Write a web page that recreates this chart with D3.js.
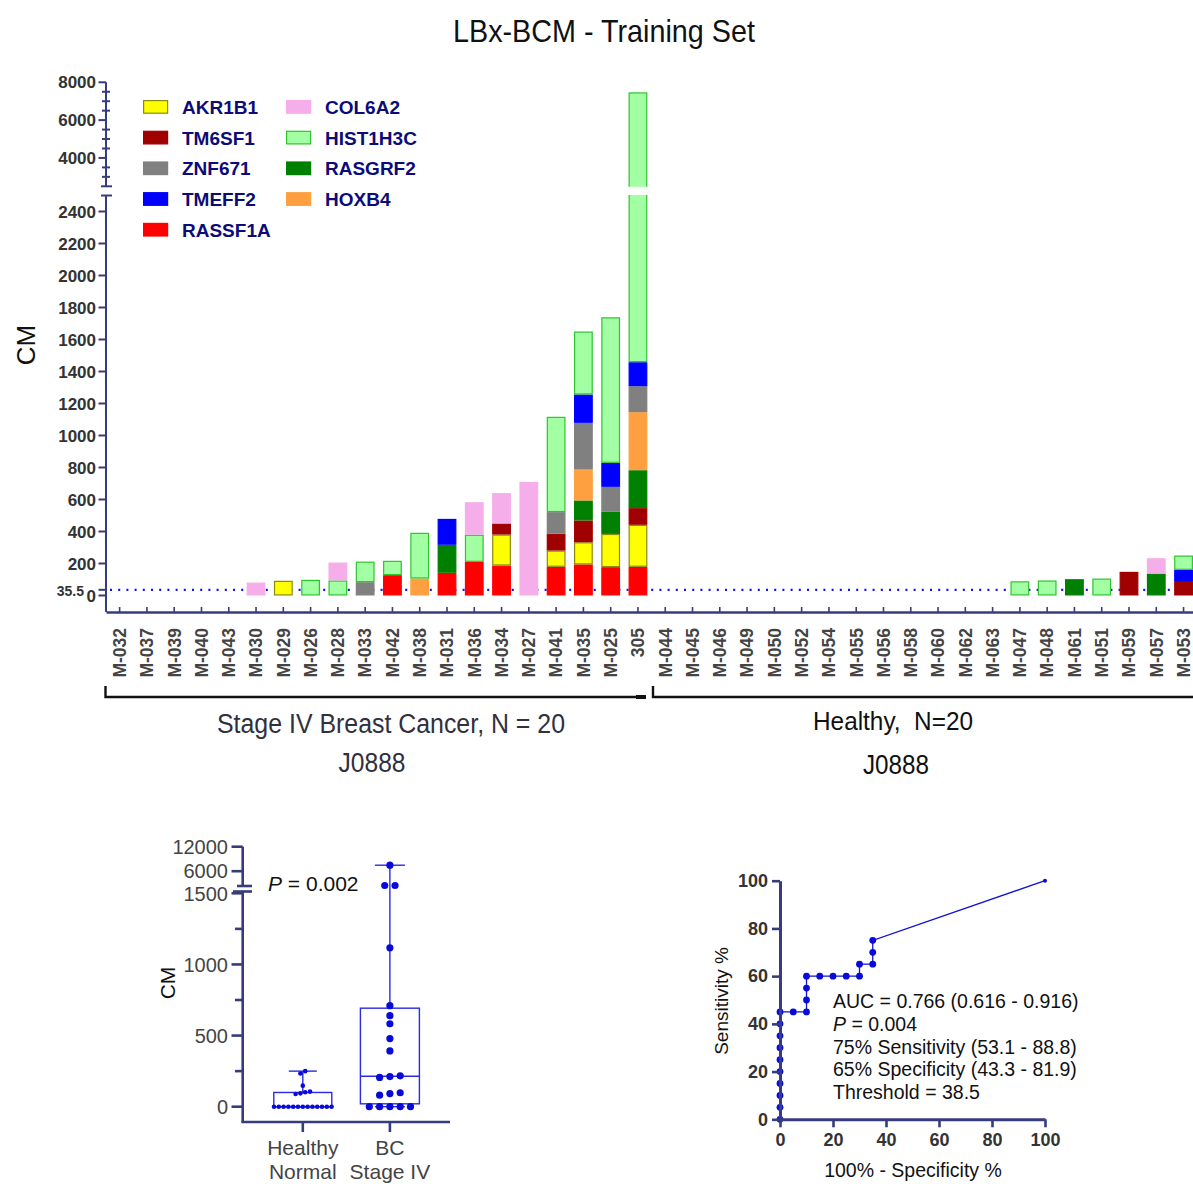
<!DOCTYPE html>
<html>
<head>
<meta charset="utf-8">
<script src="https://cdn.jsdelivr.net/npm/d3@7"></script>
<style>
  body { margin: 0; background: #fff; }
  text { font-family: "Liberation Sans", Arial, sans-serif; }
</style>
</head>
<body>
<svg id="chart" width="1193" height="1184"></svg>
<script>
// ---- data ----
const samples = ["M-032","M-037","M-039","M-040","M-043","M-030","M-029","M-026","M-028","M-033",
  "M-042","M-038","M-031","M-036","M-034","M-027","M-041","M-035","M-025","305",
  "M-044","M-045","M-046","M-049","M-050","M-052","M-054","M-055","M-056","M-058",
  "M-060","M-062","M-063","M-047","M-048","M-061","M-051","M-059","M-057","M-053"];
const nCancer = 20;

// stacking order, bottom to top
const genes = ["RASSF1A","AKR1B1","TM6SF1","RASGRF2","HOXB4","ZNF671","TMEFF2","HIST1H3C","COL6A2"];

const RASSF1A  = [0,0,0,0,0,0,0,0,0,0,  127,0,142,210,187,0,179,194,177,179,  0,0,0,0,0,0,0,0,0,0,  0,0,0,0,0,0,0,0,0,0];
const AKR1B1   = [0,0,0,0,0,0,92,0,0,0,  0,0,0,0,194,0,102,139,208,263,  0,0,0,0,0,0,0,0,0,0,  0,0,0,0,0,0,0,0,0,0];
const TM6SF1   = [0,0,0,0,0,0,0,0,0,0,  0,0,0,0,69,0,106,136,0,104,  0,0,0,0,0,0,0,0,0,0,  0,0,0,0,0,0,0,148,0,85];
const RASGRF2  = [0,0,0,0,0,0,0,0,0,0,  0,0,175,0,0,0,0,125,138,237,  0,0,0,0,0,0,0,0,0,0,  0,0,0,0,0,102,0,0,137,0];
const HOXB4    = [0,0,0,0,0,0,0,0,0,0,  0,106,0,0,0,0,0,193,0,363,  0,0,0,0,0,0,0,0,0,0,  0,0,0,0,0,0,0,0,0,0];
const ZNF671   = [0,0,0,0,0,0,0,0,0,83,  0,0,0,0,0,0,134,292,156,162,  0,0,0,0,0,0,0,0,0,0,  0,0,0,0,0,0,0,0,0,0];
const TMEFF2   = [0,0,0,0,0,0,0,0,0,0,  0,0,162,0,0,0,0,177,150,150,  0,0,0,0,0,0,0,0,0,0,  0,0,0,0,0,0,0,0,0,75];
const HIST1H3C = [0,0,0,0,0,0,0,98,94,129,  90,286,0,170,0,0,596,394,910,6012,  0,0,0,0,0,0,0,0,0,0,  0,0,0,89,94,0,106,0,0,90];
const COL6A2   = [0,0,0,0,0,81,0,0,112,0,  0,0,0,203,190,710,0,0,0,0,  0,0,0,0,0,0,0,0,0,0,  0,0,0,0,0,0,0,0,96,0];

const geneValues = {RASSF1A, AKR1B1, TM6SF1, RASGRF2, HOXB4, ZNF671, TMEFF2, HIST1H3C, COL6A2};

const legendCol1 = ["AKR1B1","TM6SF1","ZNF671","TMEFF2","RASSF1A"];
const legendCol2 = ["COL6A2","HIST1H3C","RASGRF2","HOXB4"];

const lowTicks = [0,200,400,600,800,1000,1200,1400,1600,1800,2000,2200,2400];
const highTicks = [4000,6000,8000];
const highMinor = [3000,3500,4500,5000,5500,6500,7000,7500];
const cutoff = 35.5;

const boxGroups = ["Healthy","BC"];
const boxLabels = [["Healthy","Normal"],["BC","Stage IV"]];
const boxLowTicks = [0,500,1000,1500];
const boxLowMinor = [250,750,1250];
const boxHighTicks = [6000,12000];

const rocX = [0,0,0,0,0,0,0,0,0,0,5,10,10,10,10,15,20,25,30,30,35,35,35,100];
const rocY = [0,5,10,15,20,25,30,35,40,45,45,45,50,55,60,60,60,60,60,65,65,70,75,100];
const rocTicks = [0,20,40,60,80,100];
const rocNotes = ["AUC = 0.766 (0.616 - 0.916)","P = 0.004","75% Sensitivity (53.1 - 88.8)","65% Specificity (43.3 - 81.9)","Threshold = 38.5"];

// ---- styles ----
const fills = {AKR1B1:"#ffff00", TM6SF1:"#a00000", ZNF671:"#808080", TMEFF2:"#0000ff", RASSF1A:"#ff0000",
  COL6A2:"#f5aee9", HIST1H3C:"#a3ffa3", RASGRF2:"#008000", HOXB4:"#ffa040"};
const strokes = {AKR1B1:"#8a8a10", HIST1H3C:"#2ec42e"};
const navy = "#363c7c";
const dotBlue = "#0a0ad8";

const svg = d3.select("#chart");

function fit(sel, w) { return sel.attr("textLength", w).attr("lengthAdjust", "spacingAndGlyphs"); }

// title
fit(svg.append("text").attr("x", 604).attr("y", 42).attr("text-anchor", "middle")
  .style("font-size", "32px").attr("fill", "#111").text("LBx-BCM - Training Set"), 302);

// ================= stacked bar chart =================
const x = d3.scaleBand().domain(samples).range([106, 1197.2]).paddingInner(0.31).paddingOuter(0.155);
const yLow = d3.scaleLinear().domain([0, 2500]).range([595.5, 195.5]);
const yHigh = d3.scaleLinear().domain([2500, 8000]).range([186.3, 82.3]);
const y = v => v <= 2500 ? yLow(v) : yHigh(v);

const rows = samples.map((s, i) => {
  const r = {sample: s};
  genes.forEach(g => r[g] = geneValues[g][i]);
  return r;
});
const stacked = d3.stack().keys(genes)(rows);

// cutoff dotted line (behind bars)
svg.append("line")
  .attr("x1", 110).attr("x2", 1193).attr("y1", y(cutoff)).attr("y2", y(cutoff))
  .attr("stroke", "#1010ff").attr("stroke-width", 2.2).attr("stroke-dasharray", "2 6.2");

const barG = svg.append("g");
stacked.forEach(series => {
  const g = series.key;
  barG.selectAll(null)
    .data(series.filter(d => d[1] > d[0]))
    .enter().append("rect")
    .attr("x", d => x(d.data.sample) + 0.6)
    .attr("width", x.bandwidth() - 1.2)
    .attr("y", d => y(d[1]) + 0.6)
    .attr("height", d => y(d[0]) - y(d[1]) - 1.2)
    .attr("fill", fills[g])
    .attr("stroke", strokes[g] || fills[g])
    .attr("stroke-width", 1.2);
});
// gap through bars that cross the axis break
rows.forEach(r => {
  const tot = d3.sum(genes, g => r[g]);
  if (tot > 2500) {
    svg.append("rect").attr("x", x(r.sample) - 2).attr("width", x.bandwidth() + 4)
      .attr("y", yHigh(2500) + 0.5).attr("height", yLow(2500) - yHigh(2500) - 1).attr("fill", "#fff");
  }
});

// y axis (broken)
const yAxisG = svg.append("g").attr("stroke", navy).attr("stroke-width", 2);
yAxisG.append("line").attr("x1", 106).attr("x2", 106).attr("y1", yHigh(8000)).attr("y2", yHigh(2500));
yAxisG.append("line").attr("x1", 106).attr("x2", 106).attr("y1", yLow(2500)).attr("y2", 612);
[yHigh(2500), yLow(2500)].forEach(v => yAxisG.append("line").attr("x1", 101).attr("x2", 112).attr("y1", v).attr("y2", v));
yAxisG.selectAll(null).data(lowTicks.concat([cutoff])).enter().append("line")
  .attr("x1", 98.5).attr("x2", 106).attr("y1", d => yLow(d)).attr("y2", d => yLow(d));
yAxisG.selectAll(null).data(highTicks).enter().append("line")
  .attr("x1", 98.5).attr("x2", 106).attr("y1", d => yHigh(d)).attr("y2", d => yHigh(d));
yAxisG.selectAll(null).data(highMinor).enter().append("line")
  .attr("x1", 102).attr("x2", 110).attr("y1", d => yHigh(d)).attr("y2", d => yHigh(d));

const yLab = svg.append("g").attr("fill", "#333").style("font-size", "17px").style("font-weight", "bold")
  .attr("text-anchor", "end");
yLab.selectAll(null).data(lowTicks).enter().append("text")
  .attr("x", 96).attr("y", d => yLow(d)).attr("dy", "0.36em").text(d => d);
yLab.selectAll(null).data(highTicks).enter().append("text")
  .attr("x", 96).attr("y", d => yHigh(d)).attr("dy", "0.36em").text(d => d);
yLab.append("text").attr("x", 84).attr("y", yLow(cutoff) + 1).attr("dy", "0.36em")
  .style("font-size", "14px").text(cutoff);

svg.append("text").attr("transform", "translate(35,345) rotate(-90)").attr("text-anchor", "middle")
  .style("font-size", "26px").attr("fill", "#111").text("CM");

// x axis
const xAxis = d3.axisBottom(x).tickSizeInner(-5).tickSizeOuter(0);
const xAxisG = svg.append("g").attr("transform", "translate(0,612)").call(xAxis);
xAxisG.select(".domain").attr("stroke", navy).attr("stroke-width", 2.5);
xAxisG.selectAll(".tick line").attr("stroke", navy).attr("stroke-width", 1.6);
xAxisG.selectAll(".tick text")
  .attr("transform", "rotate(-90)").attr("x", -16).attr("y", 0).attr("dy", "0.36em")
  .attr("text-anchor", "end").attr("fill", "#444")
  .style("font-size", "17.5px").style("font-weight", "bold").style("font-family", "Liberation Sans, Arial, sans-serif");

// group brackets
const br = svg.append("g").attr("fill", "none").attr("stroke", "#111").attr("stroke-width", 2.4);
br.append("path").attr("d", `M${x.range()[0] - 0.5},686V697H646`);
br.append("path").attr("d", "M653,686V697H1193");
br.append("line").attr("x1", 636).attr("x2", 646).attr("y1", 697).attr("y2", 697).attr("stroke-width", 4);

fit(svg.append("text").attr("x", 391).attr("y", 733).attr("text-anchor", "middle").attr("fill", "#30303e")
  .style("font-size", "27px").text("Stage IV Breast Cancer, N = 20"), 348);
fit(svg.append("text").attr("x", 372).attr("y", 772).attr("text-anchor", "middle").attr("fill", "#30303e")
  .style("font-size", "27px").text("J0888"), 67);
fit(svg.append("text").attr("x", 893).attr("y", 730).attr("text-anchor", "middle").attr("fill", "#111")
  .style("font-size", "26px").attr("xml:space", "preserve").text("Healthy,  N=20"), 160);
fit(svg.append("text").attr("x", 896).attr("y", 774).attr("text-anchor", "middle").attr("fill", "#111")
  .style("font-size", "27px").text("J0888"), 66);

// legend
[[legendCol1, 143, 182], [legendCol2, 286, 325]].forEach(([names, sx, tx]) => {
  names.forEach((g, i) => {
    const top = 100 + i * 30.7;
    svg.append("rect").attr("x", sx + 0.6).attr("y", top + 0.6).attr("width", 24).attr("height", 12.6)
      .attr("fill", fills[g]).attr("stroke", strokes[g] || fills[g]).attr("stroke-width", 1.2);
    svg.append("text").attr("x", tx).attr("y", top + 14).attr("fill", "#0c0c78")
      .style("font-size", "19px").style("font-weight", "bold").text(g);
  });
});

// ================= box plot =================
const totals = rows.map(r => d3.sum(genes, g => r[g]));
const groupVals = {Healthy: totals.slice(nCancer), BC: totals.slice(0, nCancer)};

const bx = d3.scalePoint().domain(boxGroups).range([242.7, 450]).padding(0.69);
const byLow = d3.scaleLinear().domain([0, 1500]).range([1106.7, 893.3]);
const byHigh = d3.scaleLinear().domain([2500, 12000]).range([885.5, 846.7]).clamp(true);
const by = v => v <= 1500 ? byLow(v) : byHigh(v);

function quant(sorted, p) {
  const h = (sorted.length + 1) * p;
  if (h <= 1) return sorted[0];
  if (h >= sorted.length) return sorted[sorted.length - 1];
  const lo = Math.floor(h);
  return sorted[lo - 1] + (h - lo) * (sorted[lo] - sorted[lo - 1]);
}

const boxG = svg.append("g");
const boxStyle = {Healthy: {r: 2.3, step: 4.8, half: 29, cap: 14}, BC: {r: 3.6, step: 10.3, half: 29.5, cap: 15}};
boxGroups.forEach(grp => {
  const vals = groupVals[grp].slice().sort(d3.ascending);
  const cx = bx(grp), st = boxStyle[grp];
  const q1 = quant(vals, 0.25), med = quant(vals, 0.5), q3 = quant(vals, 0.75);
  const mn = vals[0], mx = vals[vals.length - 1];
  const line = (x1, y1, x2, y2) => boxG.append("line").attr("x1", x1).attr("y1", y1).attr("x2", x2).attr("y2", y2)
    .attr("stroke", "#2a2ae6").attr("stroke-width", 1.4);
  line(cx, by(q3), cx, by(mx));
  line(cx, by(q1), cx, by(mn));
  line(cx - st.cap, by(mx), cx + st.cap, by(mx));
  line(cx - st.cap, by(mn), cx + st.cap, by(mn));
  boxG.append("rect").attr("x", cx - st.half).attr("width", 2 * st.half)
    .attr("y", by(q3)).attr("height", by(q1) - by(q3))
    .attr("fill", "none").attr("stroke", "#2a2ae6").attr("stroke-width", 1.4);
  line(cx - st.half, by(med), cx + st.half, by(med));

  // centred rows of dots, like a column scatter
  const pts = vals.map(v => ({v, py: by(v)}));
  const bands = [];
  pts.forEach(p => {
    const last = bands[bands.length - 1];
    if (last && Math.abs(last[0].py - p.py) < 2 * st.r) last.push(p); else bands.push([p]);
  });
  bands.forEach(b => b.forEach((p, k) => p.px = cx + (k - (b.length - 1) / 2) * st.step));
  boxG.selectAll(null).data(pts).enter().append("circle")
    .attr("cx", d => d.px).attr("cy", d => d.py).attr("r", st.r).attr("fill", dotBlue);
});

// box plot axes
const bAx = svg.append("g").attr("stroke", navy).attr("stroke-width", 2.6);
bAx.append("line").attr("x1", 242.7).attr("x2", 242.7).attr("y1", byHigh(12000)).attr("y2", 886);
bAx.append("line").attr("x1", 242.7).attr("x2", 242.7).attr("y1", 891.5).attr("y2", 1122);
bAx.append("line").attr("x1", 237).attr("x2", 252).attr("y1", 886).attr("y2", 886);
bAx.append("line").attr("x1", 233).attr("x2", 252).attr("y1", 891.5).attr("y2", 891.5);
bAx.append("line").attr("x1", 241.4).attr("x2", 450).attr("y1", 1122).attr("y2", 1122);
bAx.selectAll(null).data(boxLowTicks).enter().append("line")
  .attr("x1", 231.5).attr("x2", 242.7).attr("y1", d => byLow(d)).attr("y2", d => byLow(d));
bAx.selectAll(null).data(boxLowMinor).enter().append("line")
  .attr("x1", 235).attr("x2", 242.7).attr("y1", d => byLow(d)).attr("y2", d => byLow(d));
bAx.selectAll(null).data(boxHighTicks).enter().append("line")
  .attr("x1", 231.5).attr("x2", 242.7).attr("y1", d => byHigh(d)).attr("y2", d => byHigh(d));
bAx.selectAll(null).data(boxGroups).enter().append("line")
  .attr("x1", d => bx(d)).attr("x2", d => bx(d)).attr("y1", 1122).attr("y2", 1132);

const bLab = svg.append("g").attr("fill", "#444").style("font-size", "20px").attr("text-anchor", "end");
bLab.selectAll(null).data(boxLowTicks).enter().append("text")
  .attr("x", 228).attr("y", d => byLow(d)).attr("dy", "0.36em").text(d => d);
bLab.selectAll(null).data(boxHighTicks).enter().append("text")
  .attr("x", 228).attr("y", d => byHigh(d)).attr("dy", "0.36em").text(d => d);
boxLabels.forEach((lines, i) => {
  lines.forEach((t, j) => svg.append("text").attr("x", bx(boxGroups[i])).attr("y", 1155 + j * 23.5)
    .attr("text-anchor", "middle").attr("fill", "#444").style("font-size", "21px").text(t));
});
svg.append("text").attr("transform", "translate(175,983) rotate(-90)").attr("text-anchor", "middle")
  .attr("fill", "#111").style("font-size", "21px").text("CM");
const pTxt = svg.append("text").attr("x", 268).attr("y", 891).attr("fill", "#111").style("font-size", "21px");
pTxt.append("tspan").style("font-style", "italic").text("P");
pTxt.append("tspan").text(" = 0.002");

// ================= ROC curve =================
const rx = d3.scaleLinear().domain([0, 100]).range([780, 1045]);
const ry = d3.scaleLinear().domain([0, 100]).range([1119.3, 880.7]);
const rocPts = rocX.map((v, i) => [v, rocY[i]]);

svg.append("path").datum(rocPts)
  .attr("d", d3.line().x(d => rx(d[0])).y(d => ry(d[1])))
  .attr("fill", "none").attr("stroke", "#1212d0").attr("stroke-width", 1.3);
svg.selectAll(null).data(rocPts).enter().append("circle")
  .attr("cx", d => rx(d[0])).attr("cy", d => ry(d[1]))
  .attr("r", (d, i) => i === rocPts.length - 1 ? 2 : 3.4).attr("fill", dotBlue);

const rAxL = svg.append("g").attr("transform", "translate(780,0)")
  .call(d3.axisLeft(ry).tickValues(rocTicks).tickSize(8).tickSizeOuter(0).tickPadding(4));
const rAxB = svg.append("g").attr("transform", "translate(0,1119.3)")
  .call(d3.axisBottom(rx).tickValues(rocTicks).tickSize(8).tickSizeOuter(0).tickPadding(6));
[rAxL, rAxB].forEach(a => {
  a.select(".domain").attr("stroke", navy).attr("stroke-width", 3);
  a.selectAll(".tick line").attr("stroke", navy).attr("stroke-width", 2.6);
  a.selectAll(".tick text").attr("fill", "#333").style("font-size", "18px").style("font-weight", "bold")
    .style("font-family", "Liberation Sans, Arial, sans-serif");
});

svg.append("text").attr("transform", "translate(728,1001) rotate(-90)").attr("text-anchor", "middle")
  .attr("fill", "#111").style("font-size", "19px").text("Sensitivity %");
svg.append("text").attr("x", 913).attr("y", 1177).attr("text-anchor", "middle")
  .attr("fill", "#111").style("font-size", "19.5px").text("100% - Specificity %");

rocNotes.forEach((t, i) => {
  const tx = svg.append("text").attr("x", 833).attr("y", 1008 + i * 22.75).attr("fill", "#111").style("font-size", "19.5px");
  if (t.startsWith("P =")) {
    tx.append("tspan").style("font-style", "italic").text("P");
    tx.append("tspan").text(t.slice(1));
  } else tx.text(t);
});
</script>
</body>
</html>
